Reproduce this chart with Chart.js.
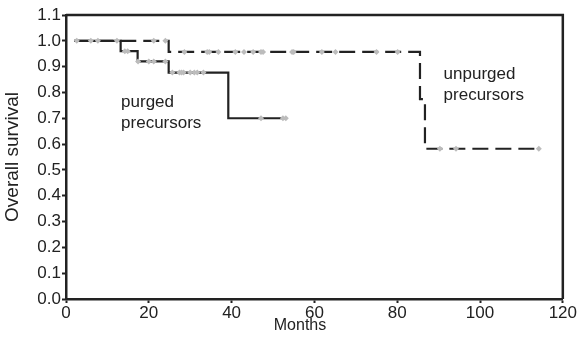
<!DOCTYPE html>
<html>
<head>
<meta charset="utf-8">
<script src="https://cdn.jsdelivr.net/npm/chart.js@4.4.1/dist/chart.umd.min.js"></script>
<style>
  html, body { margin: 0; padding: 0; background: #fff; }
  #wrap { width: 577px; height: 342px; position: relative; }
</style>
</head>
<body>
<div id="wrap"><canvas id="km"></canvas></div>
<script>
// Kaplan-Meier steps: [month, survival after the step]
const purgedSteps = [[2, 1.0], [13.2, 0.96], [17.3, 0.92], [24.8, 0.877], [39.2, 0.70], [53.4, 0.70]];
const unpurgedSteps = [[2, 1.0], [24.8, 0.957], [85.5, 0.774], [86.7, 0.582], [114.2, 0.582]];

// censored patients (tick marks)
const purgedCensorX = [14.2, 14.9, 17.4, 20.0, 21.2, 24.0, 25.7, 27.4, 27.9, 28.4, 30.0, 31.0, 31.7, 33.2, 47.1, 52.4, 53.1];
const purgedCensorY = [0.96, 0.96, 0.92, 0.92, 0.92, 0.92, 0.877, 0.877, 0.877, 0.877, 0.877, 0.877, 0.877, 0.877, 0.70, 0.70, 0.70];
const unpurgedCensorX = [2.6, 6.0, 7.7, 12.3, 21.2, 24.0, 28.6, 34.1, 34.6, 36.8, 40.9, 43.0, 45.2, 47.1, 47.6, 54.6, 55.0, 61.8, 65.1, 75.0, 80.1, 90.3, 94.2, 114.2];
const unpurgedCensorY = [1, 1, 1, 1, 1, 1, 0.957, 0.957, 0.957, 0.957, 0.957, 0.957, 0.957, 0.957, 0.957, 0.957, 0.957, 0.957, 0.957, 0.957, 0.957, 0.582, 0.582, 0.582];

const yTicks = [0, 0.1, 0.2, 0.3, 0.4, 0.5, 0.6, 0.7, 0.8, 0.9, 1.0, 1.1];
const xTicks = [0, 20, 40, 60, 80, 100, 120];

const ink = "#222";
const censorColor = "#bcbcbc";
const fontFamily = "'Liberation Sans', Arial, sans-serif";

const toPts = (xs, ys) => xs.map((x, i) => ({ x: x, y: ys[i] }));

// frame on top/right, x title and annotation text
const frameAndLabels = {
  id: "frameAndLabels",
  afterDatasetsDraw(chart) {
    const { ctx, chartArea: a, scales } = chart;
    ctx.save();
    ctx.strokeStyle = ink;
    ctx.lineWidth = 2.5;
    ctx.beginPath();
    ctx.moveTo(a.left, a.top);
    ctx.lineTo(a.right, a.top);
    ctx.lineTo(a.right, a.bottom);
    ctx.stroke();

    ctx.fillStyle = ink;
    ctx.font = "17px " + fontFamily;
    ctx.textBaseline = "alphabetic";
    const px = scales.x.getPixelForValue(13.3);
    ctx.fillText("purged", px, 107);
    ctx.fillText("precursors", px, 128);
    const ux = scales.x.getPixelForValue(91.2);
    ctx.fillText("unpurged", ux, 79);
    ctx.fillText("precursors", ux, 100);

    ctx.font = "16px " + fontFamily;
    ctx.textAlign = "center";
    ctx.fillText("Months", 300, 330);
    ctx.restore();
  }
};

new Chart(document.getElementById("km"), {
  type: "scatter",
  data: {
    datasets: [
      {
        label: "purged censored",
        data: toPts(purgedCensorX, purgedCensorY),
        pointStyle: "rectRot",
        pointRadius: 3,
        backgroundColor: censorColor,
        borderColor: censorColor,
        borderWidth: 0,
        order: 0
      },
      {
        label: "unpurged censored",
        data: toPts(unpurgedCensorX, unpurgedCensorY),
        pointStyle: "rectRot",
        pointRadius: 3,
        backgroundColor: censorColor,
        borderColor: censorColor,
        borderWidth: 0,
        order: 0
      },
      {
        label: "purged precursors",
        data: purgedSteps.map(p => ({ x: p[0], y: p[1] })),
        showLine: true,
        stepped: "before",
        borderColor: ink,
        borderWidth: 2.2,
        pointRadius: 0,
        order: 2
      },
      {
        label: "unpurged precursors",
        data: unpurgedSteps.map(p => ({ x: p[0], y: p[1] })),
        showLine: true,
        stepped: "before",
        borderColor: ink,
        borderWidth: 2.2,
        borderDash: [16, 7],
        pointRadius: 0,
        order: 1
      }
    ]
  },
  options: {
    responsive: true,
    maintainAspectRatio: false,
    animation: false,
    layout: { padding: { top: 15, right: 12, left: 0, bottom: 0 } },
    plugins: {
      legend: { display: false },
      tooltip: { enabled: false }
    },
    scales: {
      x: {
        type: "linear",
        min: 0,
        max: 120,
        afterBuildTicks: s => { s.ticks = xTicks.map(v => ({ value: v })); },
        grid: { drawOnChartArea: false, drawTicks: true, tickLength: 4, tickColor: ink, tickWidth: 2 },
        border: { display: true, color: ink, width: 2.5 },
        ticks: { color: ink, font: { family: fontFamily, size: 17 }, padding: 0, maxRotation: 0 },
        afterFit: s => { s.height = 43; }
      },
      y: {
        min: 0,
        max: 1.1,
        afterBuildTicks: s => { s.ticks = yTicks.map(v => ({ value: v })); },
        grid: { drawOnChartArea: false, drawTicks: true, tickLength: 4, tickColor: ink, tickWidth: 2 },
        border: { display: true, color: ink, width: 2.5 },
        ticks: { color: ink, font: { family: fontFamily, size: 17 }, padding: 1, callback: v => v.toFixed(1) },
        title: { display: true, text: "Overall survival", color: ink, font: { family: fontFamily, size: 19 }, padding: 1 },
        afterFit: s => { s.width = 66; }
      }
    }
  },
  plugins: [frameAndLabels]
});
</script>
</body>
</html>
